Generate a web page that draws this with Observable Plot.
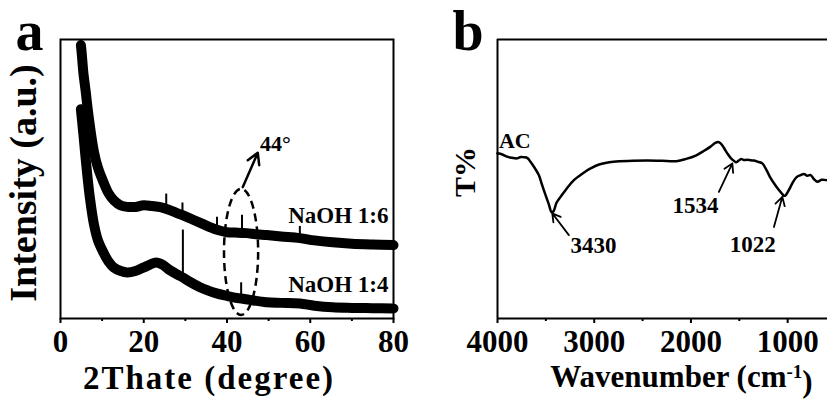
<!DOCTYPE html>
<html><head><meta charset="utf-8">
<script src="https://cdn.jsdelivr.net/npm/d3@7"></script>
<script src="https://cdn.jsdelivr.net/npm/@observablehq/plot@0.6"></script>
<style>
html,body{margin:0;padding:0;background:#fff;overflow:hidden;}
#wrap{display:flex;width:827px;height:399px;overflow:hidden;}
svg{flex:none;}
</style></head><body><div id="wrap"></div>
<script>
// ---------- Panel a : XRD ----------
const theta16 = [4.9, 5.1, 5.5, 6.0, 6.8, 8.0, 9.0, 10.4, 11.5, 12.8, 14.5, 16, 18, 20, 22, 24, 26, 28, 30, 32, 34, 36, 38, 40, 42, 44.7, 47, 49.5, 53, 57.5, 61, 65.4, 70, 75, 80];
const int16   = [98, 95, 88, 82, 72, 60, 54, 48.6, 45, 42.4, 40.5, 40, 40, 40.6, 40.3, 39.9, 39, 37.8, 36.6, 35.3, 34, 32.7, 31.6, 30.9, 30.8, 30.6, 30.2, 29.9, 29.4, 28.8, 28.0, 27.3, 26.8, 26.5, 26.3];
const theta14 = [4.9, 5.1, 5.5, 6.0, 6.4, 7.0, 8.0, 9.0, 10.4, 11.5, 12.8, 14.5, 16, 18, 20, 21.5, 23, 24.5, 26.3, 28, 29.4, 31, 33.5, 35.5, 37.5, 40, 41.5, 45, 49.5, 53, 57.5, 61, 65.4, 70, 75, 80];
const int14   = [75, 72, 66, 58, 52, 44, 34, 28, 23.4, 20.5, 18.3, 17, 16.5, 17, 18.3, 19.3, 20.1, 19.3, 17.3, 15.8, 14.7, 13.2, 11.2, 10, 9, 8.1, 7.6, 6.8, 5.8, 5.6, 5.4, 4.6, 4.0, 3.8, 3.7, 3.6];
const spike16X  = [25.4, 29.3, 37.6, 43.6, 57.5];
const spike16Lo = [39.3, 36.8, 31.8, 30.7, 28.8];
const spike16Hi = [44.6, 41.4, 36.3, 37.0, 33.0];
const spike14X  = [29.4, 43.4];
const spike14Lo = [14.7, 7.2];
const spike14Hi = [31.7, 12.8];
const seriesLabels = ["NaOH 1:6", "NaOH 1:4"];
const majorTicksA = [0, 20, 40, 60, 80];
const minorTicksA = [10, 30, 50, 70];

// ---------- Panel b : FTIR ----------
const wn = [4000, 3950, 3900, 3850, 3796, 3760, 3728, 3690, 3659, 3620, 3573, 3540, 3503, 3470, 3440, 3420, 3390, 3348, 3280, 3210, 3120, 3038, 2950, 2800, 2600, 2450, 2300, 2150, 2050, 1950, 1860, 1797, 1750, 1720, 1690, 1660, 1624, 1590, 1555, 1534, 1510, 1480, 1452, 1420, 1380, 1348, 1300, 1262, 1220, 1176, 1120, 1080, 1055, 1040, 1020, 1000, 970, 951, 910, 865, 830, 800, 762, 730, 693, 650, 600];
const trans = [59.2, 58.8, 58.0, 57.6, 57.4, 57.9, 57.8, 57.5, 56.2, 54.2, 51.4, 48, 44.2, 41, 38.1, 38.5, 41.5, 43.6, 46.8, 49.6, 52, 53.8, 55.2, 56.2, 56.5, 56.6, 56.5, 56.4, 57.2, 58.4, 60.2, 61.6, 62.9, 63.3, 62.7, 61.2, 59.2, 57.6, 56.5, 56.0, 56.5, 57.2, 56.8, 56.9, 56.7, 56.6, 56.1, 55.6, 53.3, 50.3, 47.4, 45.6, 44.6, 44.0, 44.2, 45.3, 47.2, 48.5, 50.6, 51.4, 51.8, 51.2, 51.4, 50.0, 49.0, 49.7, 49.6];
const peakLabels = ["3430", "1534", "1022"];
const majorTicksB = [4000, 3000, 2000, 1000];
const minorTicksB = [3500, 2500, 1500];

const FONT = "'Liberation Serif','Times New Roman',serif";
const STYLE = {fontFamily: FONT, fontWeight: "bold", fontSize: "30px", background: "#fff", color: "#000", overflow: "visible"};

const d16 = theta16.map((t, i) => ({t, v: int16[i]}));
const d14 = theta14.map((t, i) => ({t, v: int14[i]}));
const s16 = spike16X.map((t, i) => ({t, lo: spike16Lo[i], hi: spike16Hi[i]}));
const s14 = spike14X.map((t, i) => ({t, lo: spike14Lo[i], hi: spike14Hi[i]}));

const ellipseMark = (cx, cy, rx, ry) => (index, scales) => {
  const g = d3.create("svg:g");
  const X = scales.x, Y = scales.y;
  g.append("ellipse")
    .attr("cx", X(cx)).attr("cy", Y(cy))
    .attr("rx", Math.abs(X(cx + rx) - X(cx))).attr("ry", Math.abs(Y(cy + ry) - Y(cy)))
    .attr("fill", "none").attr("stroke", "#000").attr("stroke-width", 2.5)
    .attr("stroke-dasharray", "8,5");
  return g.node();
};

const plotA = Plot.plot({
  width: 420, height: 399,
  marginLeft: 60, marginRight: 27, marginTop: 39, marginBottom: 81,
  style: STYLE,
  x: {domain: [0, 80]},
  y: {domain: [0, 100], axis: null},
  marks: [
    Plot.axisX(majorTicksA, {tickSize: 5, tickPadding: 6, strokeWidth: 2, fontSize: 31, fontWeight: "bold", tickFormat: d => String(d), label: null}),
    Plot.axisX(minorTicksA, {tickSize: 3, strokeWidth: 2, tickFormat: () => "", label: null}),
    Plot.line(d16, {x: "t", y: "v", stroke: "#000", strokeWidth: 10, curve: "catmull-rom", strokeLinejoin: "round"}),
    Plot.line(d14, {x: "t", y: "v", stroke: "#000", strokeWidth: 10, curve: "catmull-rom", strokeLinejoin: "round"}),
    Plot.ruleX(s16, {x: "t", y1: "lo", y2: "hi", strokeWidth: 2}),
    Plot.ruleX(s14, {x: "t", y1: "lo", y2: "hi", strokeWidth: 2}),
    ellipseMark(43.5, 23.7, 4.1, 22.6),
    Plot.arrow([{x1: 43.8, y1: 47.1, x2: 47.4, y2: 59.4}], {x1: "x1", y1: "y1", x2: "x2", y2: "y2", strokeWidth: 2.5, headLength: 9, bend: false}),
    Plot.text([{x: 47.9, y: 62.6, t: "44°"}], {x: "x", y: "y", text: "t", textAnchor: "start", lineAnchor: "middle", fontSize: 22, fontWeight: "bold"}),
    Plot.text([{x: 78.8, y: 37, t: seriesLabels[0]}, {x: 78.8, y: 12, t: seriesLabels[1]}], {x: "x", y: "y", text: "t", textAnchor: "end", lineAnchor: "middle", fontSize: 23, fontWeight: "bold"}),
    Plot.frame({strokeWidth: 2}),
    Plot.text(["2Thate (degree)"], {frameAnchor: "bottom", textAnchor: "middle", lineAnchor: "middle", dx: -18, dy: 60.4, fontSize: 33, fontWeight: "bold"}),
    Plot.text(["Intensity (a.u.)"], {frameAnchor: "left", rotate: -90, textAnchor: "middle", lineAnchor: "middle", dx: -37, dy: 4, fontSize: 38, fontWeight: "bold"}),
    Plot.text(["a"], {frameAnchor: "top-left", textAnchor: "start", lineAnchor: "middle", dx: -45, dy: -7, fontSize: 56, fontWeight: "bold"})
  ]
});

const dB = wn.map((w, i) => ({w, v: trans[i]}));
const plotB = Plot.plot({
  width: 407, height: 399,
  marginLeft: 77, marginRight: 0, marginTop: 39, marginBottom: 81,
  style: STYLE,
  x: {domain: [4000, 588]},
  y: {domain: [0, 100], axis: null},
  marks: [
    Plot.axisX(majorTicksB, {tickSize: 5, tickPadding: 6, strokeWidth: 2, fontSize: 31, fontWeight: "bold", tickFormat: d => String(d), label: null}),
    Plot.axisX(minorTicksB, {tickSize: 3, strokeWidth: 2, tickFormat: () => "", label: null}),
    Plot.ruleY([0, 100], {strokeWidth: 2}),
    Plot.ruleX([4000], {strokeWidth: 2}),
    Plot.line(dB, {x: "w", y: "v", stroke: "#000", strokeWidth: 2.5, curve: "catmull-rom"}),
    Plot.arrow([
      {x1: 3262, y1: 29.9, x2: 3434, y2: 37.7},
      {x1: 1711, y1: 45.4, x2: 1572, y2: 55.6},
      {x1: 1142, y1: 32.8, x2: 1055, y2: 43.6}
    ], {x1: "x1", y1: "y1", x2: "x2", y2: "y2", strokeWidth: 1.8, headLength: 8, bend: false}),
    Plot.text([{x: 3245, y: 26, t: peakLabels[0]}], {x: "x", y: "y", text: "t", textAnchor: "start", lineAnchor: "middle", fontSize: 23, fontWeight: "bold"}),
    Plot.text([{x: 1714, y: 40.3, t: peakLabels[1]}, {x: 1124, y: 26.3, t: peakLabels[2]}], {x: "x", y: "y", text: "t", textAnchor: "end", lineAnchor: "middle", fontSize: 23, fontWeight: "bold"}),
    Plot.text([{x: 3985, y: 63.8, t: "AC"}], {x: "x", y: "y", text: "t", textAnchor: "start", lineAnchor: "middle", fontSize: 22, fontWeight: "bold"}),
    Plot.text(["Wavenumber (cm-1)"], {frameAnchor: "bottom", textAnchor: "middle", lineAnchor: "middle", dx: 19, dy: 58.1, fontSize: 31, fontWeight: "bold"}),
    Plot.text(["T%"], {frameAnchor: "left", rotate: -90, textAnchor: "middle", lineAnchor: "middle", dx: -32, dy: -7, fontSize: 30, fontWeight: "bold"}),
    Plot.text(["b"], {frameAnchor: "top-left", textAnchor: "start", lineAnchor: "middle", dx: -45, dy: -7, fontSize: 56, fontWeight: "bold"})
  ]
});

// letter spacing for the XRD axis title
d3.select(plotA).selectAll("text").filter(function() { return this.textContent === "2Thate (degree)"; })
  .attr("letter-spacing", "2px");

// superscript for cm-1
d3.select(plotB).selectAll("text").filter(function() { return this.textContent === "Wavenumber (cm-1)"; })
  .each(function() {
    const t = d3.select(this);
    t.text("Wavenumber (cm");
    t.append("tspan").attr("dy", "-0.45em").attr("font-size", "19px").text("-1");
    t.append("tspan").attr("dy", "0.45em").text(")");
  });

const wrap = document.getElementById("wrap");
wrap.appendChild(plotA);
wrap.appendChild(plotB);
</script></body></html>
